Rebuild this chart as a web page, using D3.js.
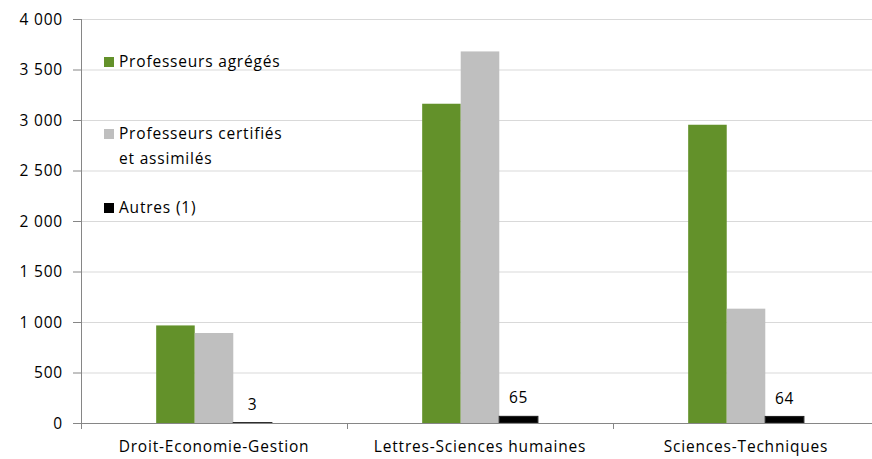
<!DOCTYPE html>
<html>
<head>
<meta charset="utf-8">
<script src="https://cdn.jsdelivr.net/npm/d3@7"></script>
<style>
  body { margin: 0; background: #fff; }
  text { font-family: "Open Sans", Lato, sans-serif; fill: #000; letter-spacing: 0.8px; }
</style>
</head>
<body>
<script>
var categories = ["Droit-Economie-Gestion", "Lettres-Sciences humaines", "Sciences-Techniques"];
var series = ["Professeurs agrégés", "Professeurs certifiés et assimilés", "Autres (1)"];
var agreges = [966, 3161, 2953];
var certifies = [891, 3679, 1132];
var autres = [3, 65, 64];
var yTicks = [0, 500, 1000, 1500, 2000, 2500, 3000, 3500, 4000];

var colors = ["#63912a", "#bfbfbf", "#000000"];
var fs = "15.5px";

// build rows from the arrays
var rows = categories.map(function(c, i) {
  return { cat: c, values: [agreges[i], certifies[i], autres[i]] };
});

var W = 872, H = 459;
var margin = {top: 19, right: -7, bottom: 36, left: 81},
    width = W - margin.left - margin.right,
    height = H - margin.top - margin.bottom;

var svg = d3.select("body").append("svg")
    .attr("width", W)
    .attr("height", H)
  .append("g")
    .attr("transform", "translate(" + margin.left + "," + margin.top + ")");

var x0 = d3.scaleBand().domain(categories).range([0, width]).padding(0);
var x1 = d3.scaleBand().domain(d3.range(series.length))
    .range([0, x0.bandwidth()]).paddingInner(0).paddingOuter(1.95);
var y = d3.scaleLinear().domain([0, 4000]).range([height, 0]);

var fr = d3.formatLocale({decimal: ",", thousands: "\u00a0", grouping: [3], currency: ["", "€"]});
var fmt = fr.format(",d");

// gridlines
svg.append("g")
  .selectAll("line")
  .data(yTicks.filter(function(d) { return d > 0; }))
  .enter().append("line")
    .attr("x1", 0).attr("x2", width)
    .attr("y1", function(d) { return y(d) + 0.5; })
    .attr("y2", function(d) { return y(d) + 0.5; })
    .attr("stroke", "#d9d9d9")
    .attr("stroke-width", 1);

// bars
var groups = svg.selectAll(".grp")
    .data(rows)
  .enter().append("g")
    .attr("class", "grp")
    .attr("transform", function(d) { return "translate(" + x0(d.cat) + ",0)"; });

groups.selectAll("rect")
    .data(function(d) { return d.values; })
  .enter().append("rect")
    .attr("x", function(d, i) { return x1(i); })
    .attr("width", x1.bandwidth())
    .attr("y", function(d) { return y(d); })
    .attr("height", function(d) { return height - y(d); })
    .attr("fill", function(d, i) { return colors[i]; })
    .attr("stroke", function(d, i) { return i == 2 ? "#222" : "none"; })
    .attr("stroke-width", function(d, i) { return i == 2 ? 1.2 : 0; });

// labels on the "Autres" bars
groups.append("text")
    .attr("x", x1(2) + x1.bandwidth() / 2)
    .attr("y", function(d) { return y(d.values[2]) - 13; })
    .attr("text-anchor", "middle")
    .style("font-size", fs)
    .text(function(d) { return fmt(d.values[2]); });

// y axis
var yAxis = svg.append("g")
    .call(d3.axisLeft(y).tickValues(yTicks).tickSize(8).tickPadding(10).tickFormat(fmt));
yAxis.select(".domain").attr("stroke", "#868686").attr("d", "M0.5,0V" + height);
yAxis.selectAll(".tick line").attr("stroke", "#868686");
yAxis.selectAll("text").style("font-size", fs).attr("dy", "0.35em");

// x axis
var xAxis = svg.append("g")
    .attr("transform", "translate(0," + height + ")")
    .call(d3.axisBottom(x0).tickSize(0).tickPadding(0));
xAxis.select(".domain").attr("stroke", "#868686").attr("d", "M0," + 0.5 + "H" + width);
xAxis.selectAll("text").style("font-size", fs).attr("y", 0).attr("dy", "29px");
// category separators
xAxis.selectAll(".sep")
    .data(categories.concat(["end"]))
  .enter().append("line")
    .attr("x1", function(d, i) { return i * x0.step() + 0.5; })
    .attr("x2", function(d, i) { return i * x0.step() + 0.5; })
    .attr("y1", 0).attr("y2", 6)
    .attr("stroke", "#868686");

// legend
var legend = [
  {lines: ["Professeurs agrégés"], y: 62},
  {lines: ["Professeurs certifiés", "et assimilés"], y: 134},
  {lines: ["Autres (1)"], y: 208}
];
var lg = d3.select("svg").append("g");
legend.forEach(function(l, i) {
  lg.append("rect")
    .attr("x", 104).attr("y", l.y - 5)
    .attr("width", 10).attr("height", 10)
    .attr("fill", colors[i]);
  l.lines.forEach(function(t, j) {
    lg.append("text")
      .attr("x", 119)
      .attr("y", l.y + j * 25)
      .attr("dy", "0.35em")
      .style("font-size", fs)
      .text(t);
  });
});
</script>
</body>
</html>
